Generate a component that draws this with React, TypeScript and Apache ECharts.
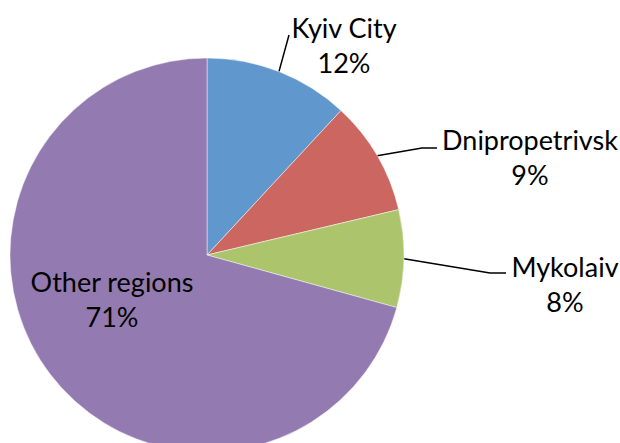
import React, { useEffect, useRef } from "react";
import * as echarts from "echarts";

const categories = ["Kyiv City", "Dnipropetrivsk", "Mykolaiv", "Other regions"];
const values = [11.9, 9.4, 8.0, 70.7];
const colors = ["#6097CC", "#CC6660", "#ACC56D", "#937AB1"];

// label block centres and leader-line bends (layout only)
const labelPos = [
  { x: 344, y: 45, bend: [[289, 35], [289, 35]] },
  { x: 530, y: 157, bend: [[422, 148], [437, 148]] },
  { x: 565, y: 284, bend: [[490, 273], [506, 273]] },
  { x: 112, y: 299, bend: null },
];

export default function App() {
  const ref = useRef<HTMLDivElement>(null);
  useEffect(() => {
    if (!ref.current) return;
    const chart = echarts.init(ref.current, null, { renderer: "svg" });
    chart.setOption({
      animation: false,
      backgroundColor: "#ffffff",
      series: [
        {
          type: "pie",
          center: [207, 255],
          radius: 197,
          startAngle: 90,
          clockwise: true,
          avoidLabelOverlap: false,
          itemStyle: { borderColor: "rgba(255,255,255,0.6)", borderWidth: 0.8 },
          label: {
            show: true,
            position: "outside",
            color: "#000",
            fontFamily: "Lato",
            fontSize: 27,
            lineHeight: 35,
            align: "center",
            formatter: (p: any) => `${p.name}\n${Math.round(p.percent)}%`,
          },
          labelLine: {
            show: true,
            length: 10,
            length2: 10,
            lineStyle: { color: "#000", width: 1.5 },
          },
          labelLayout: (params: any) => {
            const lp = labelPos[params.dataIndex];
            const res: any = { x: lp.x, y: lp.y, align: "center", verticalAlign: "middle" };
            if (lp.bend && params.labelLinePoints) {
              res.labelLinePoints = [params.labelLinePoints[0], lp.bend[0], lp.bend[1]];
            }
            return res;
          },
          data: categories.map((c, i) => ({
            name: c,
            value: values[i],
            itemStyle: { color: colors[i] },
            ...(i === 3 ? { labelLine: { show: false } } : {}),
          })),
        },
      ],
    });
    return () => chart.dispose();
  }, []);
  return (
    <div
      ref={ref}
      style={{ position: "fixed", left: 0, top: 0, width: 620, height: 443 }}
    />
  );
}
